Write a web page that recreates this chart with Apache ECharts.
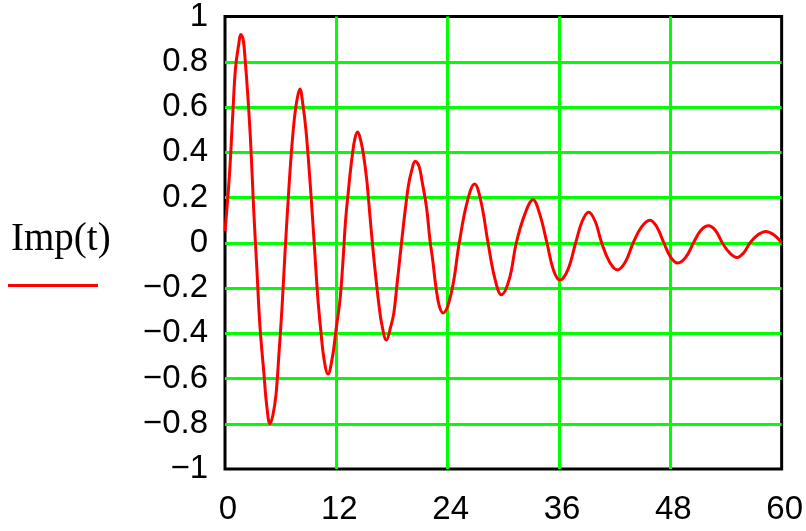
<!DOCTYPE html>
<html>
<head>
<meta charset="utf-8">
<script src="https://cdn.jsdelivr.net/npm/echarts@6/dist/echarts.min.js"></script>
<style>
  html, body { margin: 0; padding: 0; background: #fff; }
  #chart { width: 806px; height: 531px; }
</style>
</head>
<body>
<div id="chart"></div>
<script>
const seriesName = 'Imp(t)';
const xTicks = [0, 12, 24, 36, 48, 60];
const yTicks = [-1, -0.8, -0.6, -0.4, -0.2, 0, 0.2, 0.4, 0.6, 0.8, 1];

const tValues = [
  0, 0.48, 0.84, 1.13, 1.49, 1.7, 1.95, 2.15, 2.46, 2.78, 3.1, 3.44, 3.77, 4.2, 4.5, 4.85,
  5.17, 5.5, 5.8, 6.14, 6.46, 6.78, 7.1, 7.43, 7.75, 8.07, 8.4, 8.72, 9.04, 9.37, 9.69,
  10.0, 10.33, 10.66, 11.1, 11.6, 11.95, 12.4, 12.7, 13.0, 13.35, 13.67, 14.0, 14.3,
  14.64, 14.96, 15.3, 15.6, 15.93, 16.25, 16.58, 16.9, 17.4, 17.87, 18.2, 18.5, 18.84,
  19.16, 19.5, 19.8, 20.13, 20.5, 20.9, 21.25, 21.74, 22.07, 22.4, 22.75, 23.1, 23.5,
  24.4, 25.25, 26.1, 26.9, 27.6, 28.35, 29.1, 29.8, 30.65, 31.4, 32.35, 33.2, 33.9,
  34.7, 35.4, 36.1, 36.95, 37.8, 38.5, 39.2, 39.9, 40.6, 41.45, 42.3, 43.15, 44.0,
  44.9, 45.8, 46.55, 47.3, 48.05, 48.8, 49.65, 50.5, 51.3, 52.1, 52.85, 53.6, 54.4,
  55.2, 55.9, 56.6, 57.45, 58.3, 59.15, 60
];
const impValues = [
  0.05, 0.30, 0.57, 0.77, 0.88, 0.92, 0.90, 0.82, 0.65, 0.43, 0.14, -0.12, -0.37, -0.58, -0.72, -0.80,
  -0.76, -0.67, -0.50, -0.29, -0.05, 0.17, 0.37, 0.53, 0.63, 0.68, 0.61, 0.50, 0.34, 0.15, -0.05,
  -0.24, -0.39, -0.51, -0.58, -0.50, -0.39, -0.25, -0.09, 0.10, 0.25, 0.37, 0.46, 0.49,
  0.45, 0.38, 0.27, 0.13, -0.02, -0.15, -0.27, -0.36, -0.43, -0.37, -0.31, -0.20, -0.07,
  0.05, 0.17, 0.26, 0.32, 0.36, 0.34, 0.27, 0.15, 0.02, -0.08, -0.20, -0.28, -0.31,
  -0.22, 0.0, 0.18, 0.26, 0.18, 0.0, -0.16, -0.23, -0.16, 0.0, 0.13, 0.19, 0.13,
  0.0, -0.12, -0.165, -0.12, 0.0, 0.095, 0.135, 0.095, 0.0, -0.085, -0.12, -0.085, 0.0,
  0.07, 0.10, 0.07, 0.0, -0.065, -0.09, -0.065, 0.0, 0.055, 0.075, 0.055, 0.0, -0.045,
  -0.065, -0.045, 0.0, 0.035, 0.05, 0.035, 0.0
];

const data = tValues.map((t, i) => [t, impValues[i]]);
const fmtNum = v => String(Math.round(v * 10) / 10).replace('-', '\u2212');

const chart = echarts.init(document.getElementById('chart'), null, { renderer: 'canvas' });
chart.setOption({
  animation: false,
  backgroundColor: '#ffffff',
  grid: {
    left: 225, right: 24, top: 16, bottom: 62,
    show: true, borderColor: '#000000', borderWidth: 3, backgroundColor: 'transparent'
  },
  xAxis: {
    type: 'value', min: xTicks[0], max: xTicks[xTicks.length - 1], interval: 12,
    axisLine: { show: false }, axisTick: { show: false },
    axisLabel: { color: '#000', fontFamily: 'Liberation Sans', fontSize: 33, margin: 24, padding: [0, 0, 0, 6],
      formatter: v => fmtNum(v) },
    splitLine: { show: true, showMinLine: false, showMaxLine: false, lineStyle: { color: '#00ff00', width: 3 } }
  },
  yAxis: {
    type: 'value', min: yTicks[0], max: yTicks[yTicks.length - 1], interval: 0.2,
    axisLine: { show: false }, axisTick: { show: false },
    axisLabel: { color: '#000', fontFamily: 'Liberation Sans', fontSize: 33, margin: 17, padding: [6, 0, 0, 0],
      formatter: v => fmtNum(v) },
    splitLine: { show: true, showMinLine: false, showMaxLine: false, lineStyle: { color: '#00ff00', width: 3 } }
  },
  series: [{
    name: seriesName, type: 'line', data: data, smooth: 0.4, symbol: 'none',
    lineStyle: { color: '#ff0000', width: 3 }, z: 5
  }],
  graphic: [
    { type: 'text', left: 11, top: 220,
      style: { text: seriesName, font: '39px "Liberation Serif"', fill: '#000' } },
    { type: 'rect', shape: { x: 8, y: 284, width: 90, height: 3 }, style: { fill: '#ff0000' } }
  ]
});
</script>
</body>
</html>
